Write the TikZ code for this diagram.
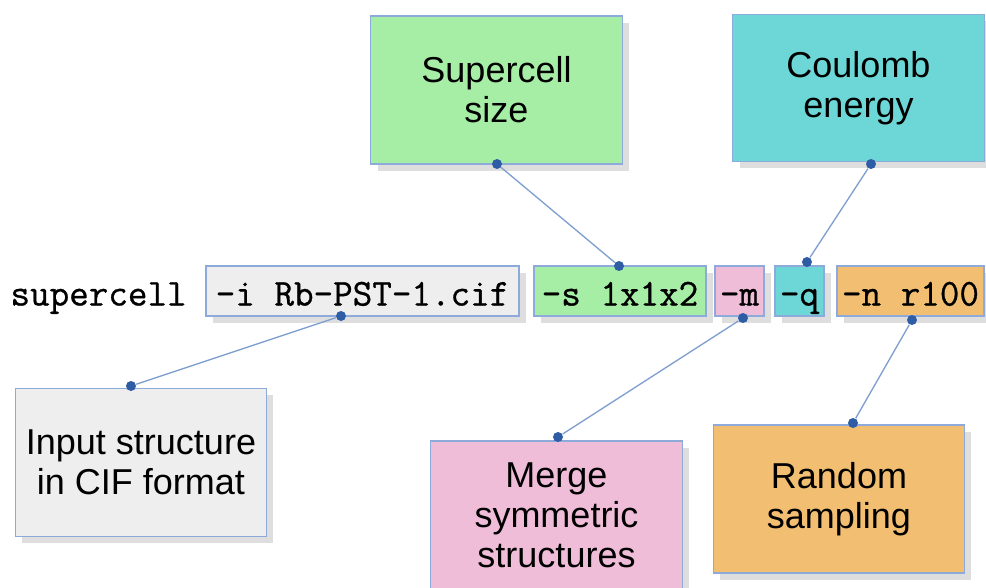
\documentclass[tikz,border=0pt]{standalone}
\usepackage{fontspec}
\setmainfont{Liberation Sans}
\newfontfamily\optfont{Latin Modern Mono}[FakeBold=0.8]
\usetikzlibrary{shadows}

\definecolor{boxline}{RGB}{142,170,219}
\definecolor{linkline}{RGB}{127,159,207}
\definecolor{dotblue}{RGB}{46,93,165}
\definecolor{inputgray}{RGB}{238,238,238}
\definecolor{sizegreen}{RGB}{166,238,166}
\definecolor{mergepink}{RGB}{240,189,217}
\definecolor{coulombcyan}{RGB}{109,214,214}
\definecolor{randomorange}{RGB}{241,190,114}

\tikzset{every picture/.style={line width=0.75pt}}
\tikzset{
  softshadow/.style={drop shadow={shadow xshift=5pt, shadow yshift=-5pt, fill=black, opacity=0.13}},
  infobox/.style={draw=boxline, line width=0.9pt, align=center, inner sep=0pt,
    minimum width=188.5pt, minimum height=111pt,
    font=\fontsize{27}{30}\selectfont, softshadow},
  optbox/.style={draw=boxline, line width=0.9pt, inner sep=0pt,
    minimum height=37.5pt, text height=25pt, text depth=3.2pt,
    font=\fontsize{28.5}{30}\optfont, softshadow},
  link/.style={draw=linkline, line width=1pt},
  knob/.style={circle, fill=dotblue, inner sep=0pt, minimum size=7.5pt}
}

\begin{document}
\begin{tikzpicture}[x=0.75pt,y=0.75pt,yscale=-1,xscale=1]
\useasboundingbox (0,0) rectangle (986,588);

%Shape: Rectangle [Supercell size]
\node (size) at (496.5,90) [infobox, fill=sizegreen] {Supercell\\size};
%Shape: Rectangle [Coulomb energy]
\node (coulomb) at (858.5,88) [infobox, fill=coulombcyan, minimum height=110pt] {Coulomb\\energy};
%Shape: Rectangle [Input structure]
\node (input) at (141,462.5) [infobox, fill=inputgray] {Input structure\\in CIF format};
%Shape: Rectangle [Merge]
\node (merge) at (556.5,515) [infobox, fill=mergepink] {Merge\\symmetric\\structures};
%Shape: Rectangle [Random sampling]
\node (random) at (839,499) [infobox, fill=randomorange] {Random\\sampling};

% Text Node
\node (cmd) at (10,305.5) [anchor=base west, inner sep=0pt, font=\fontsize{28.5}{30}\optfont] {supercell};
% Text Node
\node (optI) at (362.5,291) [optbox, fill=inputgray, minimum width=234.75pt] {-i Rb-PST-1.cif};
% Text Node
\node (optS) at (620,291) [optbox, fill=sizegreen, minimum width=129pt] {-s 1x1x2};
% Text Node
\node (optM) at (739.5,291) [optbox, fill=mergepink, minimum width=36.75pt] {-m};
% Text Node
\node (optQ) at (799.5,291) [optbox, fill=coulombcyan, minimum width=36.75pt] {-q};
% Text Node
\node (optN) at (910.5,291) [optbox, fill=randomorange, minimum width=110.25pt] {-n r100};

%Dots
\node (dSize) at (497,164) [knob] {};
\node (dS) at (619,266) [knob] {};
\node (dCoulomb) at (871,164) [knob] {};
\node (dQ) at (807,262) [knob] {};
\node (dI) at (341,316) [knob] {};
\node (dInput) at (131,386) [knob] {};
\node (dM) at (743,318) [knob] {};
\node (dMerge) at (558,437) [knob] {};
\node (dN) at (912,320) [knob] {};
\node (dRandom) at (853,423) [knob] {};

%Straight Lines
\draw [link] (dSize) -- (dS);
\draw [link] (dCoulomb) -- (dQ);
\draw [link] (dI) -- (dInput);
\draw [link] (dM) -- (dMerge);
\draw [link] (dN) -- (dRandom);
\end{tikzpicture}
\end{document}
